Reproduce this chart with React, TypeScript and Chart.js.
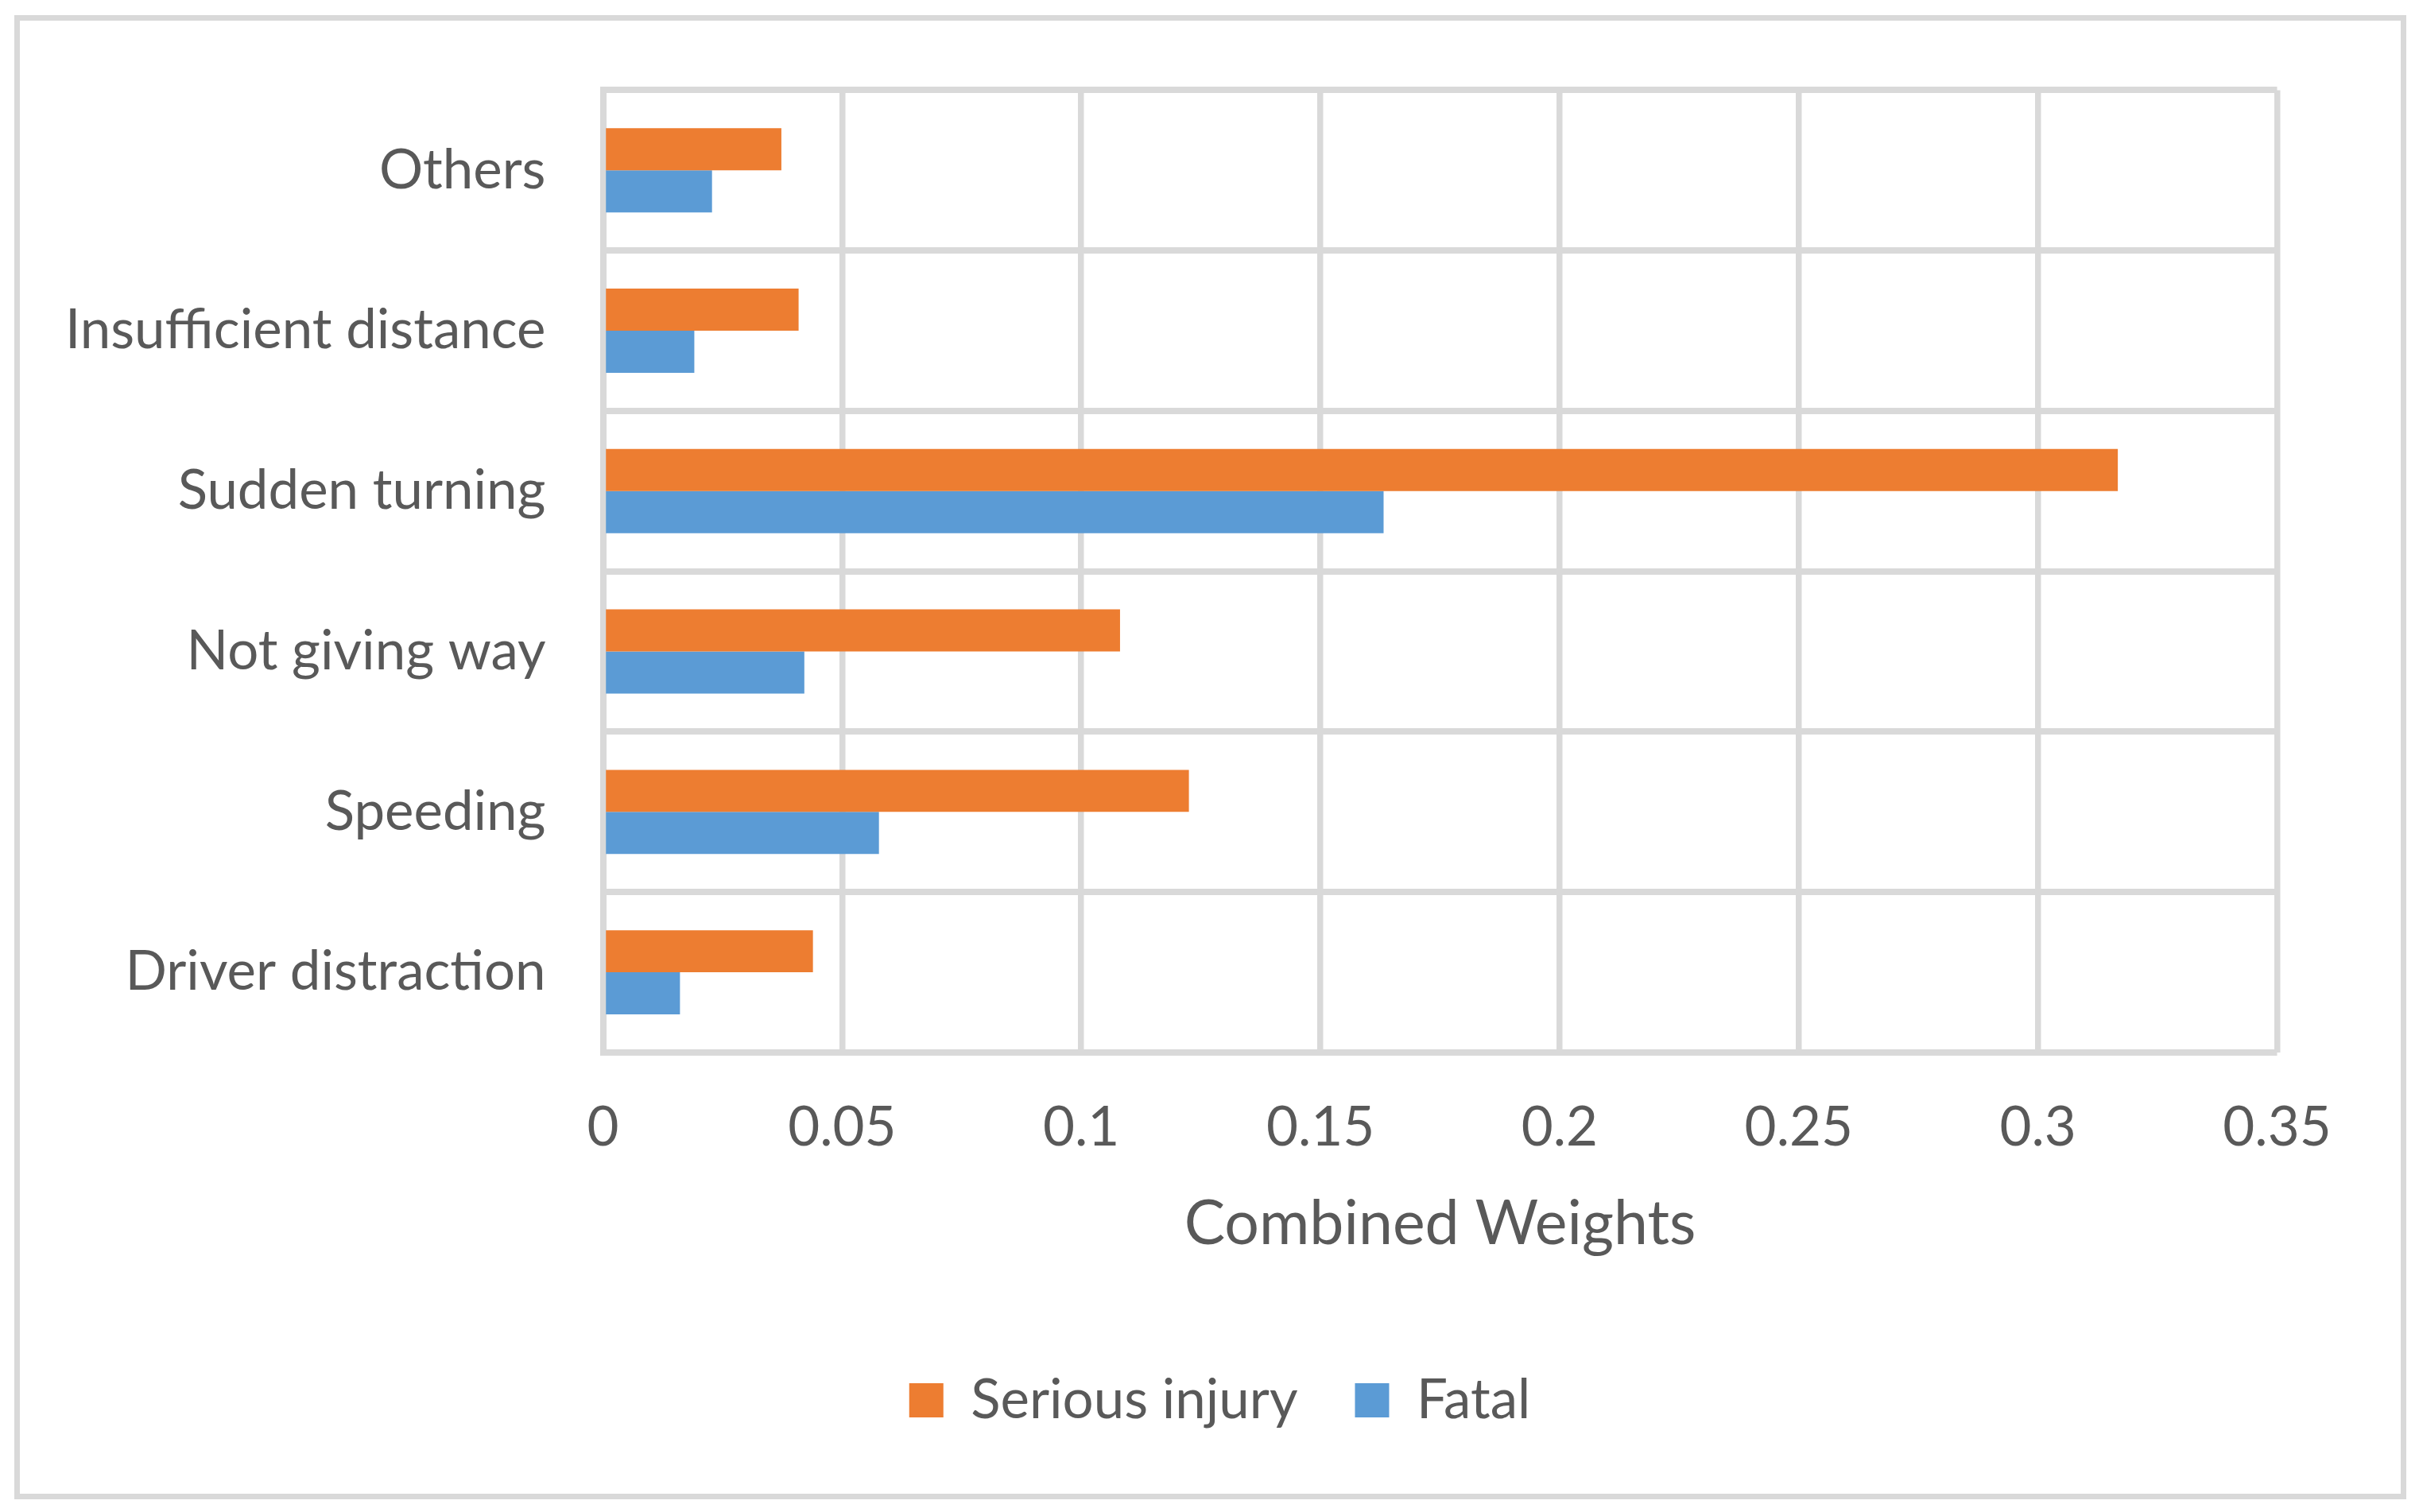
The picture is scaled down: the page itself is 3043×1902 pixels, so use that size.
import React, { useEffect, useRef } from "react";
import { Chart, registerables } from "chart.js";

Chart.register(...registerables);

const categories = [
  "Others",
  "Insufficient distance",
  "Sudden turning",
  "Not giving way",
  "Speeding",
  "Driver distraction",
];
const seriousInjury = [0.0373, 0.0409, 0.3167, 0.1081, 0.1225, 0.0439];
const fatal = [0.0228, 0.0191, 0.1632, 0.0421, 0.0577, 0.0161];
const xMin = 0;
const xMax = 0.35;
const xStep = 0.05;
const xTitle = "Combined Weights";
const seriesNames = ["Serious injury", "Fatal"];

const ORANGE = "#ED7D31";
const BLUE = "#5B9BD5";
const GRID = "#D9D9D9";
const TEXT = "#595959";
const FONT = "Lato";

export default function App() {
  const ref = useRef<HTMLCanvasElement | null>(null);

  useEffect(() => {
    document.body.style.margin = "0";
    const canvas = ref.current;
    if (!canvas) return;
    const chart = new Chart(canvas, {
      type: "bar",
      data: {
        labels: categories,
        datasets: [
          {
            label: seriesNames[0],
            data: seriousInjury,
            backgroundColor: ORANGE,
            borderWidth: 0,
            categoryPercentage: 0.525,
            barPercentage: 1,
          },
          {
            label: seriesNames[1],
            data: fatal,
            backgroundColor: BLUE,
            borderWidth: 0,
            categoryPercentage: 0.525,
            barPercentage: 1,
          },
        ],
      },
      options: {
        indexAxis: "y",
        animation: false,
        responsive: true,
        maintainAspectRatio: false,
        layout: { padding: { top: 111, left: 26, right: 0, bottom: 96 } },
        plugins: {
          tooltip: { enabled: false },
          title: { display: false },
          legend: {
            display: true,
            position: "bottom",
            labels: {
              boxWidth: 43,
              boxHeight: 43,
              padding: 72,
              color: TEXT,
              font: { family: FONT, size: 69 },
            },
          },
        },
        scales: {
          x: {
            type: "linear",
            position: "bottom",
            min: xMin,
            max: xMax,
            ticks: {
              stepSize: xStep,
              padding: 53.5,
              color: TEXT,
              font: { family: FONT, size: 69 },
              callback: (v: any) => String(Math.round(Number(v) * 100) / 100),
            },
            grid: { color: GRID, lineWidth: 7.5, drawTicks: false },
            border: { display: false },
            title: {
              display: true,
              text: xTitle,
              color: TEXT,
              font: { family: FONT, size: 77 },
              padding: { top: 0, bottom: 69 },
            },
            afterFit: (s: any) => {
              s.height = 331;
            },
          },
          y: {
            type: "category",
            position: "left",
            ticks: {
              padding: 72,
              color: TEXT,
              font: { family: FONT, size: 69 },
            },
            grid: { color: GRID, lineWidth: 8, drawTicks: false, offset: true },
            border: { display: true, color: GRID, width: 8 },
            afterFit: (s: any) => {
              s.width = 732.5;
            },
          },
          yRight: {
            type: "linear",
            position: "right",
            display: true,
            grid: { display: false, drawTicks: false },
            ticks: { display: false },
            border: { display: false },
            afterFit: (s: any) => {
              s.width = 178.5;
            },
          },
        },
      },
    });
    return () => chart.destroy();
  }, []);

  return (
    <div style={{ position: "absolute", left: 0, top: 0, width: 3043, height: 1902, background: "#fff" }}>
      <div
        style={{
          position: "absolute",
          left: 18,
          top: 19,
          width: 3009,
          height: 1867,
          boxSizing: "border-box",
          border: `7px solid ${GRID}`,
          pointerEvents: "none",
        }}
      />
      <canvas ref={ref} style={{ position: "absolute", left: 0, top: 0, width: 3043, height: 1902 }} />
    </div>
  );
}
